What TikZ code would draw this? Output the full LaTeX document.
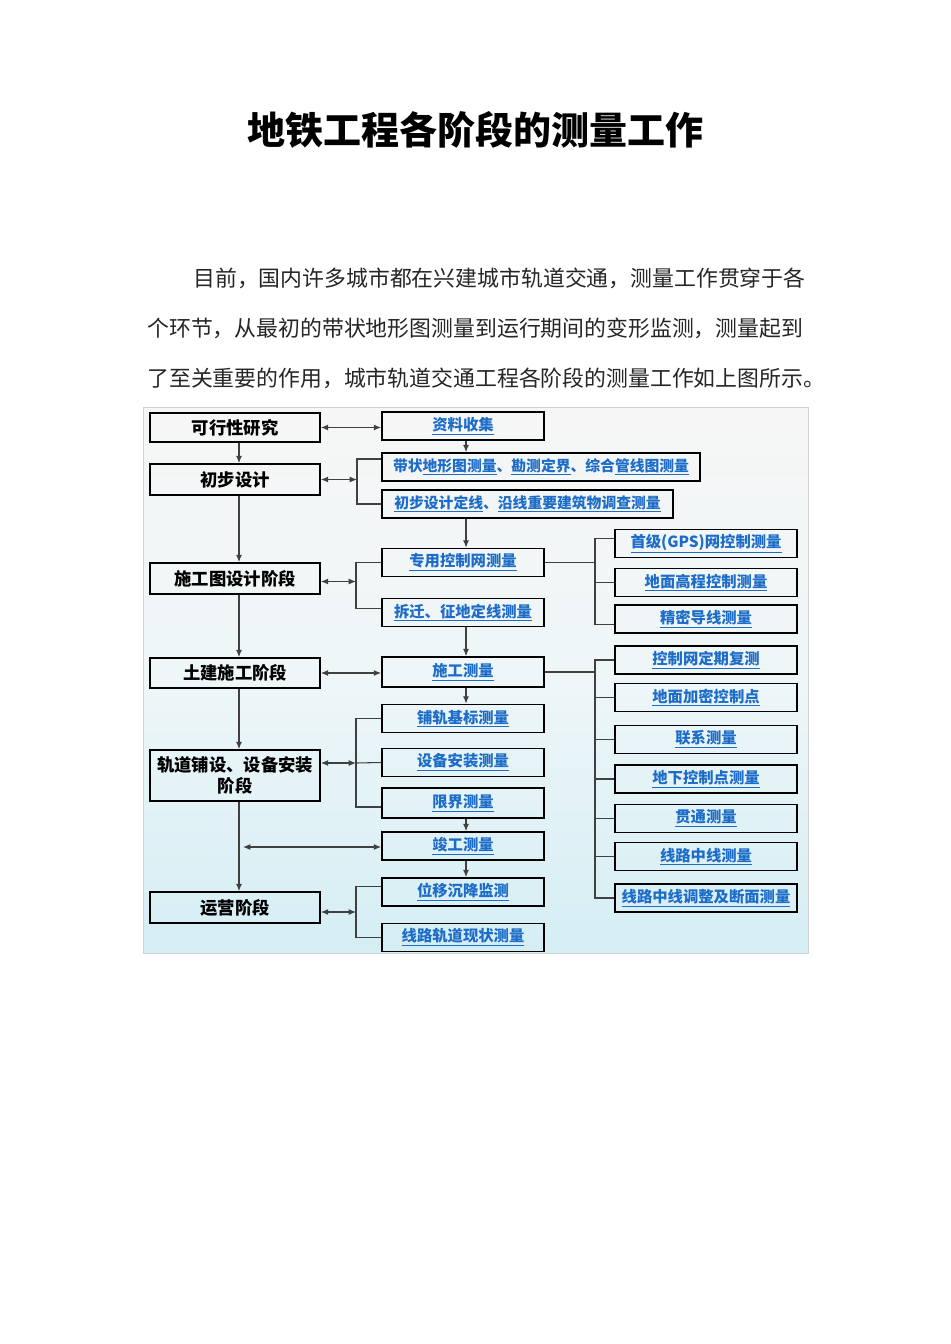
\documentclass[tikz,border=0pt]{standalone}
\usepackage{fontspec}
\setmainfont{Noto Sans CJK SC}
\usetikzlibrary{arrows.meta}
\definecolor{linkblue}{RGB}{28,108,200}
\definecolor{bgtop}{RGB}{246,246,246}
\definecolor{bgmid}{RGB}{238,246,248}
\definecolor{bgbot}{RGB}{212,238,244}
\tikzset{
  stagebox/.style={draw=black, line width=1.3pt, inner sep=0pt, minimum width=127.5pt,
    align=center, font=\bfseries\fontsize{13}{16}\selectfont},
  mbox/.style={draw=black, line width=1.3pt, inner sep=0pt, minimum height=21pt,
    text=linkblue, font=\bfseries\fontsize{11.5}{14}\selectfont},
  midbox/.style={mbox, minimum width=121.5pt},
  rbox/.style={mbox, minimum width=136.5pt},
  widebox/.style={mbox, font=\bfseries\fontsize{11.1}{14}\selectfont},
  ln/.style={draw=black!75, line width=0.8pt},
  arr/.style={ln, -{Latex[length=5.5pt,width=4.5pt]}},
  dbl/.style={ln, {Latex[length=5.5pt,width=4.5pt]}-{Latex[length=5.5pt,width=4.5pt]}},
  para/.style={anchor=west, inner sep=0pt, text=black!85, font=\fontsize{16.4}{18}\selectfont}
}
\newcommand{\ul}[1]{\underline{#1}}
\begin{document}
\begin{tikzpicture}[x=0.75pt,y=-0.75pt]
\useasboundingbox[fill=white] (0,0) rectangle (950,1344);

% title and paragraph
\node[font=\bfseries\fontsize{28.5}{30}\selectfont] (title) at (475,130) {地铁工程各阶段的测量工作};
\node[para] (p1) at (193,278) {目前，国内许多城市都在兴建城市轨道交通，测量工作贯穿于各};
\node[para] (p2) at (147,328) {个环节，从最初的带状地形图测量到运行期间的变形监测，测量起到};
\node[para] (p3) at (147,378) {了至关重要的作用，城市轨道交通工程各阶段的测量工作如上图所示。};

% background
\shade[top color=bgtop, bottom color=bgbot, middle color=bgmid, draw=gray!35, line width=0.5pt]
  (143,407) rectangle (808,953);

% left stages
\node[stagebox, minimum height=21.75pt] (s1) at (235,427.5) {可行性研究};
\node[stagebox, minimum height=23.25pt] (s2) at (235,479.5) {初步设计};
\node[stagebox, minimum height=23.25pt] (s3) at (235,578.5) {施工图设计阶段};
\node[stagebox, minimum height=22.5pt] (s4) at (235,673) {土建施工阶段};
\node[stagebox, minimum height=38.25pt] (s5) at (235,775.5) {轨道铺设、设备安装\\阶段};
\node[stagebox, minimum height=23.25pt] (s6) at (235,907.5) {运营阶段};

% middle column
\node[midbox] (a) at (463,426) {\ul{资料收集}};
\node[widebox, minimum width=238.5pt] (b) at (541,467) {带状\ul{地形图测量}、\ul{勘测定界}、综合\ul{管线图测量}};
\node[widebox, minimum width=218.25pt] (c) at (527.5,504) {\ul{初步设计定线}、\ul{沿线重要建筑物调查测量}};
\node[midbox] (d) at (463,562.5) {\ul{专用控制网测量}};
\node[midbox] (e) at (463,612.5) {\ul{拆迁、征地定线测量}};
\node[midbox, minimum height=22.5pt] (f) at (463,672) {\ul{施工测量}};
\node[midbox] (g) at (463,718.5) {\ul{铺轨基标测量}};
\node[midbox] (h) at (463,762.5) {\ul{设备安装测量}};
\node[midbox, minimum height=22.5pt] (i) at (463,803) {\ul{限界测量}};
\node[midbox] (j) at (463,846) {\ul{竣工测量}};
\node[midbox] (k) at (463,892) {\ul{位移沉降监测}};
\node[midbox] (l) at (463,937.5) {\ul{线路轨道现状测量}};

% right column
\node[rbox] (r1) at (706,543.5) {\ul{首级(GPS)网控制测量}};
\node[rbox] (r2) at (706,582.5) {\ul{地面高程控制测量}};
\node[rbox] (r3) at (706,619) {\ul{精密导线测量}};
\node[rbox] (r4) at (706,660) {\ul{控制网定期复测}};
\node[rbox] (r5) at (706,697.5) {\ul{地面加密控制点}};
\node[rbox] (r6) at (706,739.5) {\ul{联系测量}};
\node[rbox] (r7) at (706,779) {\ul{地下控制点测量}};
\node[rbox] (r8) at (706,818.5) {\ul{贯通测量}};
\node[rbox] (r9) at (706,856.5) {\ul{线路中线测量}};
\node[rbox] (r10) at (706,898) {\ul{线路中线调整及断面测量}};

% junction coordinates
\coordinate (bx1) at (357,479.5);
\coordinate (bx2) at (356,581.5);
\coordinate (bx3) at (356,763);
\coordinate (bx4) at (356,912);
\coordinate (rx1) at (595,562.5);
\coordinate (rx2) at (595,672);
\coordinate (jl) at (243,847);

% left spine
\draw[arr] ([xshift=3pt]s1.south) -- ([xshift=3pt]s2.north);
\draw[arr] ([xshift=3pt]s2.south) -- ([xshift=3pt]s3.north);
\draw[arr] ([xshift=3pt]s3.south) -- ([xshift=3pt]s4.north);
\draw[arr] ([xshift=3pt]s4.south) -- ([xshift=3pt]s5.north);
\draw[arr] ([xshift=3pt]s5.south) -- ([xshift=3pt]s6.north);

% middle spine
\draw[arr] ([xshift=2.25pt]a.south) -- ([xshift=2.25pt]a.south |- b.north);
\draw[arr] ([xshift=2.25pt]c.south -| d.south) -- ([xshift=2.25pt]d.north);
\draw[arr] ([xshift=2.25pt]e.south) -- ([xshift=2.25pt]f.north);
\draw[arr] ([xshift=2.25pt]f.south) -- ([xshift=2.25pt]g.north);
\draw[arr] ([xshift=2.25pt]i.south) -- ([xshift=2.25pt]j.north);
\draw[arr] ([xshift=2.25pt]j.south) -- ([xshift=2.25pt]k.north);

% stage <-> tasks
\draw[dbl] (s1.east) -- (s1.east -| a.west);
\draw[dbl] (s2.east) -- (bx1);
\draw[ln] ([yshift=6pt]b.west) -| (bx1) |- (c.west);
\draw[dbl] (bx2 -| s3.east) -- (bx2);
\draw[ln] (d.west) -| (bx2) |- ([yshift=3pt]e.west);
\draw[dbl] (s4.east) -- (s4.east -| f.west);
\draw[dbl] (bx3 -| s5.east) -- (bx3);
\draw[ln] (g.west) -| (bx3) |- ([yshift=-3pt]i.west);
\draw[ln] (h.west) -- (bx3);
\draw[dbl] (jl) -- (jl -| j.west);
\draw[dbl] (bx4 -| s6.east) -- (bx4);
\draw[ln] ([yshift=4pt]k.west) -| (bx4) |- (l.west);

% right brackets
\draw[ln] (d.east) -- (rx1);
\draw[ln] ([yshift=4pt]r1.west) -| (rx1) |- ([yshift=-4pt]r3.west);
\draw[ln] (r2.west) -- (r2.west -| rx1);
\draw[ln] (f.east) -- (rx2);
\draw[ln] (r4.west) -| (rx2) |- (r10.west);
\foreach \n in {r5,r6,r7,r8,r9} {\draw[ln] (\n.west) -- (\n.west -| rx2);}
\end{tikzpicture}
\end{document}
